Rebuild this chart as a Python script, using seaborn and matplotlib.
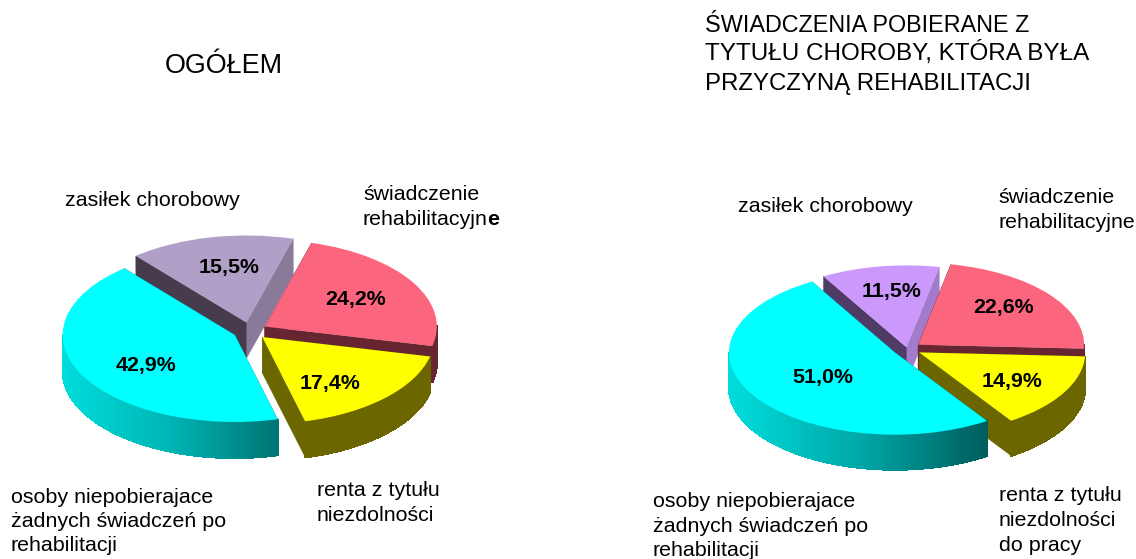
# Two exploded pseudo-3D pies: rehabilitation benefits
import numpy as np
import matplotlib
matplotlib.use("Agg")
import matplotlib.pyplot as plt
from matplotlib.patches import Polygon
import seaborn as sns

W, H = 1136, 559

# pie order is counter-clockwise from the start angle
values_all = [42.9, 17.4, 24.2, 15.5]
values_ill = [51.0, 14.9, 22.6, 11.5]
explode_all = [0.1, 0.1, 0.1, 0.1]
explode_ill = [0.085, 0.085, 0.085, 0.02]

colors_all = ["#00ffff", "#ffff00", "#fb667e", "#b09fc6"]
colors_ill = ["#00ffff", "#ffff00", "#fb667e", "#cb99fb"]
# side shades: first cut face, second cut face, outer wall
sides_all = [("#00a0a0", "#00a0a0", ["#00dcdc", "#00b4b4", "#007474"]),
             ("#6b6600", "#6b6600", ["#6b6600", "#6b6600"]),
             ("#662530", "#662530", ["#662530", "#662530"]),
             ("#8a7a9a", "#463c4d", ["#8a7a9a", "#8a7a9a"])]
sides_ill = [("#00a0a0", "#00a0a0", ["#00dcdc", "#00a8a8", "#005c5c"]),
             ("#6b6600", "#6b6600", ["#6b6600", "#6b6600"]),
             ("#662530", "#662530", ["#662530", "#662530"]),
             ("#a27ccb", "#503a66", ["#a27ccb", "#a27ccb"])]

sns.set_theme(style="white")
plt.rcParams['font.family'] = ['Liberation Sans', 'DejaVu Sans']

fig = plt.figure(figsize=(W / 100, H / 100), dpi=100)


def px_text(x, y, s, size=15.4, **kw):
    kw.setdefault("va", "baseline")
    return fig.text(x / W, 1 - y / H, s, fontsize=size, color="black", **kw)


def draw_pie(cx, cy, a, b, depth, values, explode, colors, sides, startangle):
    # axes spans +-1.3 radius, extra room below for the wall
    dz = depth / b
    left, right, top, bottom = cx - 1.3 * a, cx + 1.3 * a, cy - 1.3 * b, cy + 1.3 * b + depth
    ax = fig.add_axes([left / W, 1 - bottom / H, (right - left) / W, (bottom - top) / H])
    wedges, _ = ax.pie(values, explode=explode, colors=colors, startangle=startangle,
                       wedgeprops={"linewidth": 0})
    ax.set_aspect("auto")
    ax.set_xlim(-1.3, 1.3)
    ax.set_ylim(-1.3 - dz, 1.3)
    ax.axis("off")

    # back to front: last wedge sits behind, first one in front
    for i, w in enumerate(wedges):
        z = [50, 40, 30, 20][i]
        w.set_zorder(z + 2)
        c = np.array(w.center)
        shade1, shade2, wall = sides[i]
        for ang, col in ((w.theta1, shade1), (w.theta2, shade2)):
            p = c + w.r * np.array([np.cos(np.radians(ang)), np.sin(np.radians(ang))])
            quad = [c, p, p - [0, dz], c - [0, dz]]
            ax.add_patch(Polygon(quad, closed=True, fc=col, ec=col, lw=0.3, zorder=z))
        # outer wall, only the part facing the viewer, shaded left to right
        th = np.radians(np.linspace(w.theta1, w.theta2, 240))
        th = th[np.sin(th) < 0.01]
        if len(th) < 2:
            continue
        xs = c[0] + w.r * np.cos(th)
        ys = c[1] + w.r * np.sin(th)
        pal = sns.blend_palette(wall, n_colors=64)
        for j in range(len(th) - 1):
            t = (0.5 * (xs[j] + xs[j + 1]) - xs.min()) / (xs.max() - xs.min())
            col = pal[int(np.clip(t, 0, 1) * 63)]
            quad = [(xs[j], ys[j]), (xs[j + 1], ys[j + 1]),
                    (xs[j + 1], ys[j + 1] - dz), (xs[j], ys[j] - dz)]
            ax.add_patch(Polygon(quad, closed=True, fc=col, ec=col, lw=0.8,
                                 antialiased=False, zorder=z + 1))
    return ax


draw_pie(250, 331, 172, 87, 36, values_all, explode_all, colors_all, sides_all, 130)
draw_pie(907, 349, 166, 82, 35, values_ill, explode_ill, colors_ill, sides_ill, 120)

# percent labels
pos_all = [(146, 365), (330, 384), (356, 300), (229, 267)]
pos_ill = [(823, 377), (1012, 382), (1004, 307), (892, 291)]
for vals, pos in ((values_all, pos_all), (values_ill, pos_ill)):
    for v, (x, y) in zip(vals, pos):
        px_text(x, y, f"{v:.1f}%".replace(".", ","), size=15.4, weight="bold",
                ha="center", va="center", zorder=100)

# titles
px_text(165, 73, "OGÓŁEM", size=19.4)
px_text(705, 32, "ŚWIADCZENIA POBIERANE Z", size=16.8)
px_text(705, 60, "TYTUŁU CHOROBY, KTÓRA BYŁA", size=17.5)
px_text(705, 90, "PRZYCZYNĄ REHABILITACJI", size=17.3)

# left captions
px_text(65, 206, "zasiłek chorobowy")
px_text(363, 200, "świadczenie")
px_text(363, 225, "rehabilitacyjn")
px_text(487, 225, "e", weight="bold")
px_text(11, 503, "osoby niepobierajace")
px_text(11, 527, "żadnych świadczeń po")
px_text(11, 551, "rehabilitacji")
px_text(317, 496, "renta z tytułu")
px_text(317, 521, "niezdolności")

# right captions
px_text(738, 212, "zasiłek chorobowy")
px_text(998, 203, "świadczenie")
px_text(998, 228, "rehabilitacyjne")
px_text(653, 507, "osoby niepobierajace")
px_text(653, 532, "żadnych świadczeń po")
px_text(653, 556, "rehabilitacji")
px_text(999, 501, "renta z tytułu")
px_text(999, 526, "niezdolności")
px_text(999, 551, "do pracy")

fig.savefig("out.png", dpi=100, facecolor="white")
